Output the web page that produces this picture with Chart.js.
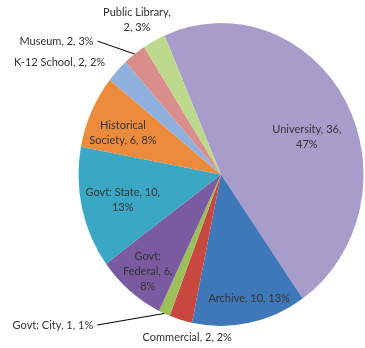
<!DOCTYPE html>
<html>
<head>
<meta charset="utf-8">
<script src="https://cdn.jsdelivr.net/npm/chart.js@4"></script>
<style>
  html, body { margin: 0; padding: 0; background: #fff; }
  #wrap { position: relative; width: 365px; height: 348px; }
</style>
</head>
<body>
<div id="wrap"><canvas id="pie"></canvas></div>
<script>
const categories = ["University", "Archive", "Commercial", "Govt: City", "Govt: Federal",
  "Govt: State", "Historical Society", "K-12 School", "Museum", "Public Library"];
const counts = [36, 10, 2, 1, 6, 10, 6, 2, 2, 2];
const percents = ["47%", "13%", "2%", "1%", "8%", "13%", "8%", "2%", "3%", "3%"];
const colors = ["#a89dca", "#3f78b8", "#c8473f", "#9bc05a", "#7a5aa0",
  "#3aa8c4", "#ec8b3c", "#8fb0dc", "#d98e8c", "#bcd98e"];

// label text lines, as Excel wrapped them
const labelLines = [
  ["University, 36,", "47%"],
  ["Archive, 10, 13%"],
  ["Commercial, 2, 2%"],
  ["Govt: City, 1, 1%"],
  ["Govt:", "Federal, 6,", "8%"],
  ["Govt: State, 10,", "13%"],
  ["Historical", "Society, 6, 8%"],
  ["K-12 School, 2, 2%"],
  ["Museum, 2, 3%"],
  ["Public Library,", "2, 3%"],
];

// label placement: angle shift from slice middle (deg), radius factor, alignment, leader line
const labelPlace = [
  { da: 7, r: 0.65, align: "center" },
  { da: -2, r: 0.84, align: "center" },
  { da: -4, r: 1.10, align: "center" },
  { da: 17.7, r: 1.32, align: "right", leader: true },
  { da: -1, r: 0.82, align: "center" },
  { da: -1, r: 0.71, align: "center" },
  { da: -3, r: 0.74, align: "center" },
  { da: -1, r: 1.10, align: "right" },
  { da: -7.2, r: 1.235, align: "right", leader: true },
  { da: -2, r: 1.18, align: "center" },
];

const SY = 152 / 143; // pie in the picture is a bit taller than wide

const stretch = {
  id: "stretch",
  beforeDatasetsDraw(chart) {
    const a = chart.getDatasetMeta(0).data[0];
    const ctx = chart.ctx;
    ctx.save();
    ctx.translate(a.x, a.y);
    ctx.scale(1, SY);
    ctx.translate(-a.x, -a.y);
  },
  afterDatasetsDraw(chart) {
    chart.ctx.restore();
  },
};

const pieLabels = {
  id: "pieLabels",
  afterDraw(chart) {
    const ctx = chart.ctx;
    const arcs = chart.getDatasetMeta(0).data;
    ctx.save();
    ctx.font = "11px Lato, 'Open Sans', sans-serif";
    ctx.fillStyle = "#333";
    ctx.textBaseline = "middle";
    const lh = 15;
    arcs.forEach((arc, i) => {
      const p = labelPlace[i];
      const mid = (arc.startAngle + arc.endAngle) / 2;
      const ang = mid + p.da * Math.PI / 180;
      const R = arc.outerRadius;
      const px = arc.x + Math.cos(ang) * R * p.r;
      const py = arc.y + Math.sin(ang) * R * p.r * SY;
      const lines = labelLines[i];
      let tx = px;
      if (p.leader) {
        const ex = arc.x + Math.cos(mid) * R * 1.0;
        const ey = arc.y + Math.sin(mid) * R * SY;
        ctx.strokeStyle = "#000";
        ctx.lineWidth = 1;
        ctx.beginPath();
        ctx.moveTo(px, py);
        ctx.lineTo(ex, ey);
        ctx.stroke();
        tx = px - 4;
      }
      ctx.textAlign = p.align;
      const y0 = py - (lines.length - 1) * lh / 2;
      lines.forEach((t, k) => ctx.fillText(t, tx, y0 + k * lh));
    });
    ctx.restore();
  },
};

new Chart(document.getElementById("pie"), {
  type: "pie",
  data: {
    labels: categories,
    datasets: [{
      data: counts,
      backgroundColor: colors,
      borderWidth: 0,
    }],
  },
  options: {
    responsive: true,
    maintainAspectRatio: false,
    animation: false,
    rotation: -23.3,
    layout: { padding: { left: 78, right: 1, top: 32, bottom: 31 } },
    plugins: {
      legend: { display: false },
      tooltip: { enabled: false },
    },
  },
  plugins: [stretch, pieLabels],
});
</script>
</body>
</html>
